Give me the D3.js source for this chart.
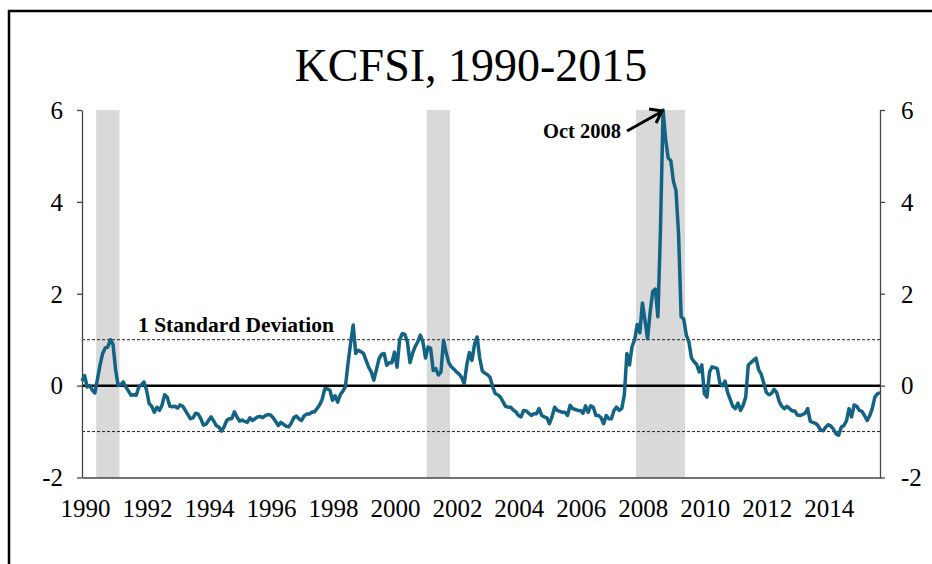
<!DOCTYPE html>
<html><head><meta charset="utf-8">
<script src="https://cdn.jsdelivr.net/npm/d3@7"></script>
<style>
body{margin:0;background:#fff}
svg{display:block}
text{font-family:"Liberation Serif","Times New Roman",serif;fill:#000}
</style>
</head><body>
<svg id="c" width="932" height="564"></svg>
<script>
// ---- data (monthly KCFSI, Jan 1990 - Oct 2015) ----
const startYear = 1990;
const kcfsi = [
  0.1, 0.22, -0.03, 0.0, -0.1, -0.16, 0.15, 0.45, 0.7, 0.82, 0.84, 1.0,
  0.9, 0.35, 0.0, 0.02, 0.08, -0.03, -0.12, -0.21, -0.2, -0.21, -0.03, 0.02,
  0.08, -0.1, -0.39, -0.45, -0.58, -0.47, -0.54, -0.42, -0.2, -0.25, -0.45, -0.46,
  -0.45, -0.49, -0.42, -0.45, -0.54, -0.63, -0.72, -0.7, -0.6, -0.62, -0.72, -0.86,
  -0.84, -0.76, -0.68, -0.77, -0.87, -0.9, -0.99, -0.9, -0.76, -0.72, -0.72, -0.57,
  -0.68, -0.77, -0.75, -0.78, -0.8, -0.7, -0.76, -0.72, -0.68, -0.67, -0.7, -0.65,
  -0.63, -0.64, -0.7, -0.78, -0.87, -0.8, -0.84, -0.88, -0.9, -0.82, -0.7, -0.66,
  -0.72, -0.76, -0.66, -0.62, -0.62, -0.58, -0.57, -0.5, -0.42, -0.3, -0.07, -0.07,
  -0.1, -0.32, -0.22, -0.36, -0.2, -0.12, -0.02, 0.48, 0.92, 1.32, 0.7, 0.77,
  0.74, 0.7, 0.55, 0.4, 0.3, 0.12, 0.35, 0.58, 0.68, 0.7, 0.44, 0.5,
  0.5, 0.73, 0.4, 1.0, 1.13, 1.12, 0.95, 0.5, 0.7, 0.85, 0.95, 1.1,
  0.95, 0.6, 0.84, 0.81, 0.33, 0.37, 0.23, 0.3, 0.99, 0.72, 0.5, 0.41,
  0.36, 0.3, 0.25, 0.18, 0.04, 0.45, 0.72, 0.55, 0.9, 1.06, 0.6, 0.32,
  0.27, 0.24, 0.18, -0.02, -0.17, -0.2, -0.25, -0.35, -0.45, -0.47, -0.47, -0.53,
  -0.57, -0.65, -0.68, -0.54, -0.55, -0.6, -0.65, -0.61, -0.61, -0.5, -0.65, -0.68,
  -0.7, -0.83, -0.68, -0.47, -0.54, -0.56, -0.58, -0.58, -0.65, -0.43, -0.5, -0.52,
  -0.54, -0.54, -0.6, -0.44, -0.58, -0.44, -0.47, -0.65, -0.65, -0.7, -0.83, -0.65,
  -0.72, -0.72, -0.54, -0.47, -0.54, -0.5, -0.2, 0.7, 0.45, 0.85, 1.0, 1.33,
  1.15, 1.8, 1.42, 1.02, 1.6, 2.05, 2.1, 1.5, 3.4, 6.0, 5.35, 4.95,
  4.9, 4.45, 4.25, 3.3, 1.5, 1.45, 1.1, 0.95, 0.6, 0.52, 0.46, 0.3,
  0.45, -0.18, -0.25, 0.3, 0.41, 0.39, 0.37, 0.05, 0.0, 0.1, -0.15, -0.3,
  -0.45, -0.5, -0.38, -0.54, -0.43, -0.25, 0.45, 0.5, 0.55, 0.6, 0.35, 0.25,
  0.05, -0.15, -0.2, -0.17, -0.08, -0.15, -0.35, -0.45, -0.5, -0.45, -0.5, -0.55,
  -0.55, -0.64, -0.65, -0.63, -0.6, -0.5, -0.78, -0.8, -0.82, -0.87, -0.97, -0.98,
  -0.9, -0.85, -0.88, -0.95, -1.05, -1.08, -0.9, -0.87, -0.77, -0.5, -0.68, -0.42,
  -0.45, -0.54, -0.56, -0.65, -0.76, -0.66, -0.5, -0.25, -0.18, -0.15
];
const yTicks = [-2, 0, 2, 4, 6];
const yTickLabels = ["-2", "0", "2", "4", "6"];
const xTickLabels = ["1990","1992","1994","1996","1998","2000","2002","2004","2006","2008","2010","2012","2014"];
const sdLevels = [1, -1];
const recessionStart = ["1990-07", "2001-03", "2007-12"];
const recessionEnd   = ["1991-03", "2001-11", "2009-06"];
const titleText = "KCFSI, 1990-2015";
const sdLabel = "1 Standard Deviation";
const peakLabel = "Oct 2008";
const peakDate = "2008-10";

// ---- helpers ----
const monthIndex = s => { const [y, m] = s.split("-").map(Number); return (y - startYear) * 12 + (m - 1); };

const svg = d3.select("#c");
const L = 82, R = 880, T = 110, B = 477.5;
const x = d3.scaleLinear().domain([0, kcfsi.length - 1]).range([L, R]);
const y = d3.scaleLinear().domain([-2, 6]).range([B, T]);

// outer frame
svg.append("rect").attr("x", 9).attr("y", 11).attr("width", 1000).attr("height", 1000)
  .attr("fill", "none").attr("stroke", "#000").attr("stroke-width", 2.5);

// title
svg.append("text").attr("x", 471).attr("y", 81).attr("text-anchor", "middle")
  .attr("font-size", 46).text(titleText);

// recession shading
svg.append("g").selectAll("rect").data(recessionStart.map((s, i) => [monthIndex(s) - 0.5, monthIndex(recessionEnd[i]) + 0.5]))
  .join("rect")
  .attr("x", d => x(d[0])).attr("width", d => x(d[1]) - x(d[0]))
  .attr("y", T).attr("height", B - T).attr("fill", "#d9d9d9");

// +/- 1 sd dashed lines
svg.append("g").selectAll("line").data(sdLevels).join("line")
  .attr("x1", L).attr("x2", R).attr("y1", d => y(d)).attr("y2", d => y(d))
  .attr("stroke", "#222").attr("stroke-width", 1).attr("stroke-dasharray", "3,2");

// zero line
svg.append("line").attr("x1", L).attr("x2", R).attr("y1", y(0)).attr("y2", y(0))
  .attr("stroke", "#000").attr("stroke-width", 2.5);

// axes
const fontSize = 25;
const yFmt = d => yTickLabels[yTicks.indexOf(d)];
const gl = svg.append("g").attr("transform", `translate(${L},0)`)
  .call(d3.axisLeft(y).tickValues(yTicks).tickSize(5).tickSizeOuter(0).tickPadding(14).tickFormat(yFmt));
const gr = svg.append("g").attr("transform", `translate(${R},0)`)
  .call(d3.axisRight(y).tickValues(yTicks).tickSize(5).tickSizeOuter(0).tickPadding(16).tickFormat(yFmt));
const gb = svg.append("g").attr("transform", `translate(0,${B})`)
  .call(d3.axisBottom(x).tickValues(xTickLabels.map(s => (+s - startYear) * 12)).tickSize(0).tickSizeOuter(0)
    .tickPadding(22).tickFormat((d, i) => xTickLabels[i]));
[gl, gr, gb].forEach(g => {
  g.selectAll("text").attr("font-size", fontSize).attr("font-family", "Liberation Serif").attr("fill", "#000");
  g.selectAll("path.domain").attr("stroke", "#444").attr("stroke-width", 1.3);
  g.selectAll("line").attr("stroke", "#444").attr("stroke-width", 1.3);
});
gl.selectAll("text").attr("dy", "0.33em");
gr.selectAll("text").attr("dy", "0.33em");
gb.selectAll("text").attr("dx", 3).attr("dy", "0.71em");
gb.select("path.domain").attr("stroke-width", 1.6);

// series line
svg.append("path").datum(kcfsi)
  .attr("d", d3.line().x((d, i) => x(i)).y(d => y(d)))
  .attr("fill", "none").attr("stroke", "#136385").attr("stroke-width", 3.5).attr("stroke-linejoin", "round");

// annotations
svg.append("text").attr("x", 138).attr("y", 332).attr("font-size", 21.5).attr("font-weight", "bold").text(sdLabel);

const pi = monthIndex(peakDate);
const px = x(pi), py = y(kcfsi[pi]);
svg.append("text").attr("x", 543).attr("y", 138).attr("font-size", 20.5).attr("font-weight", "bold").text(peakLabel);
const tail = [px - 36, py + 21];
svg.append("line").attr("x1", tail[0]).attr("y1", tail[1]).attr("x2", px - 2).attr("y2", py + 2)
  .attr("stroke", "#000").attr("stroke-width", 3);
svg.append("path")
  .attr("d", `M${px - 14},${py - 1} L${px - 1},${py + 1} L${px - 7},${py + 13}`)
  .attr("fill", "none").attr("stroke", "#000").attr("stroke-width", 3).attr("stroke-linejoin", "miter");
</script>
</body></html>
